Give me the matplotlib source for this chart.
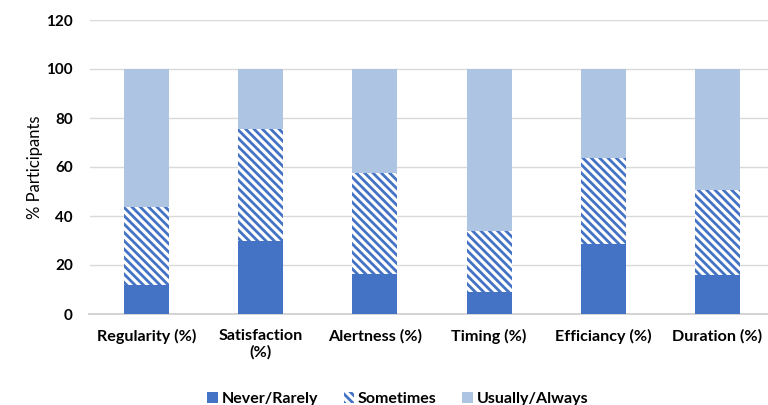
import matplotlib
matplotlib.use("Agg")
import matplotlib.pyplot as plt
import numpy as np

categories = ["Regularity (%)", "Satisfaction\n(%)", "Alertness (%)", "Timing (%)",
              "Efficiancy (%)", "Duration (%)"]
never_rarely = [12, 30, 16.5, 9, 28.5, 16]
sometimes = [31.5, 45.5, 41, 25, 35, 34.5]
usually_always = [56.5, 24.5, 42.5, 66, 36.5, 49.5]
yticks = [0, 20, 40, 60, 80, 100, 120]

blue = "#4472C4"
light_blue = "#ADC4E2"

plt.rcParams["font.family"] = ["Lato", "DejaVu Sans"]
plt.rcParams["hatch.linewidth"] = 2.0
plt.rcParams["hatch.color"] = blue

fig = plt.figure(figsize=(7.68, 4.05), dpi=100)
ax = fig.add_axes([89.5 / 768, 1 - 314 / 405, 685 / 768, 294 / 405])

x = np.arange(len(categories))
w = 0.395
b1 = np.array(never_rarely)
b2 = b1 + np.array(sometimes)

ax.bar(x, never_rarely, w, color=blue, label="Never/Rarely", zorder=3)
ax.bar(x, sometimes, w, bottom=b1, facecolor="white", edgecolor=blue, linewidth=0,
       hatch="\\\\\\\\", label="Sometimes", zorder=3)
ax.bar(x, usually_always, w, bottom=b2, color=light_blue, label="Usually/Always", zorder=3)

ax.set_xlim(-0.5, len(categories) - 0.5)
ax.set_ylim(0, 120)
ax.set_yticks(yticks)
ax.set_yticklabels([str(t) for t in yticks], fontweight="bold", fontsize=11)
ax.set_xticks(x)
ax.set_xticklabels(categories, fontweight="bold", fontsize=11.6, linespacing=1.2)
ax.tick_params(axis="y", length=0, pad=12)
ax.tick_params(axis="x", length=0, pad=11)

ax.grid(axis="y", color="#d9d9d9", linewidth=1, zorder=0)
for s in ["top", "right", "left"]:
    ax.spines[s].set_visible(False)
ax.spines["bottom"].set_color("#d0d0d0")
ax.spines["bottom"].set_linewidth(1.3)

ax.set_ylabel("% Participants", fontsize=12, labelpad=2)

fig.legend(loc="center", bbox_to_anchor=(0.518, 1 - 399 / 405), ncol=3, frameon=False,
           prop={"weight": "bold", "size": 11.5}, handlelength=0.65, handleheight=0.65,
           handletextpad=0.25, columnspacing=1.6)

fig.savefig("out.png", dpi=100)
